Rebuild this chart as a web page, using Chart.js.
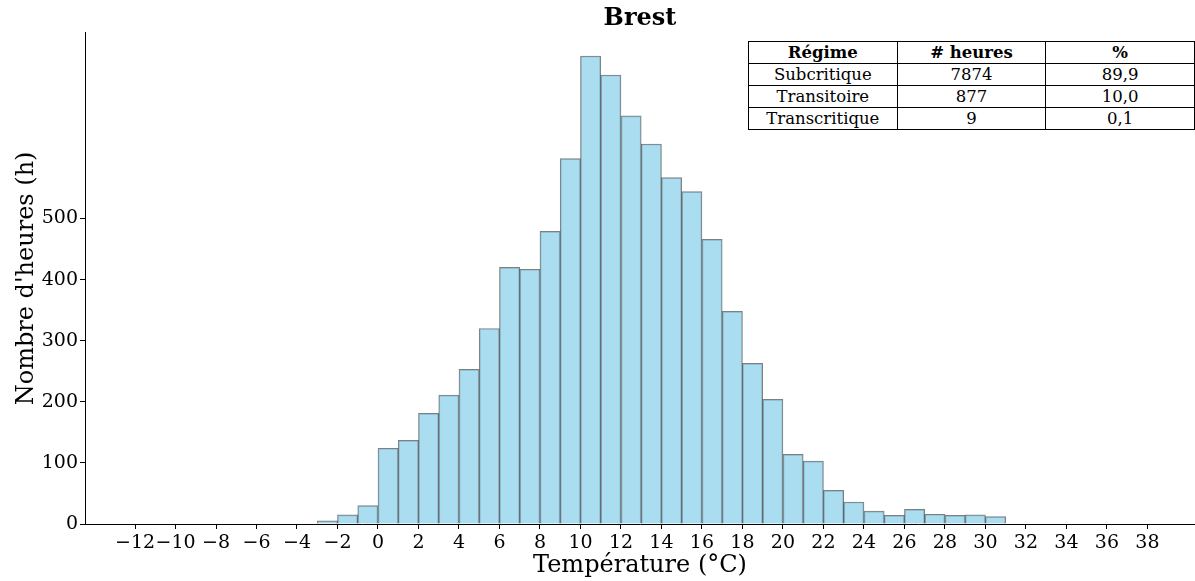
<!DOCTYPE html>
<html>
<head>
<meta charset="utf-8">
<script src="https://cdn.jsdelivr.net/npm/chart.js@4"></script>
<style>
  body { margin: 0; background: #fff; }
  #wrap { position: relative; width: 1195px; height: 581px; }
  #regimes {
    position: absolute; left: 748px; top: 41px; width: 447px;
    border-collapse: collapse; font-family: "DejaVu Serif", serif; font-size: 16.5px;
    background: #fff;
  }
  #regimes td, #regimes th {
    border: 1px solid #000; text-align: center; height: 21px; padding: 0; width: 33.3%;
    line-height: 21px;
  }
</style>
</head>
<body>
<div id="wrap">
  <canvas id="histo" width="1195" height="581"></canvas>
  <table id="regimes"></table>
</div>
<script>
// bins of 1 °C, left edges
const binStarts = [-3, -2, -1, 0, 1, 2, 3, 4, 5, 6, 7, 8, 9, 10, 11, 12, 13, 14, 15, 16, 17, 18, 19, 20, 21, 22, 23, 24, 25, 26, 27, 28, 29, 30];
const hours = [5, 15, 30, 124, 137, 181, 211, 253, 320, 420, 417, 479, 598, 766, 735, 668, 622, 567, 544, 466, 348, 263, 204, 114, 103, 55, 36, 21, 14, 24, 16, 14, 15, 12];
const xTicks = [-12, -10, -8, -6, -4, -2, 0, 2, 4, 6, 8, 10, 12, 14, 16, 18, 20, 22, 24, 26, 28, 30, 32, 34, 36, 38];
const yTicks = [0, 100, 200, 300, 400, 500];

const tableHead = ["Régime", "# heures", "%"];
const regimes = ["Subcritique", "Transitoire", "Transcritique"];
const regimeHours = ["7874", "877", "9"];
const regimePct = ["89,9", "10,0", "0,1"];

// table
const tbl = document.getElementById("regimes");
let html = "<tr>" + tableHead.map(h => "<th>" + h + "</th>").join("") + "</tr>";
regimes.forEach((r, i) => {
  html += "<tr><td>" + r + "</td><td>" + regimeHours[i] + "</td><td>" + regimePct[i] + "</td></tr>";
});
tbl.innerHTML = html;

const serif = "'DejaVu Serif', serif";
const fmt = v => (v < 0 ? "\u2212" + Math.abs(v) : String(v));

new Chart(document.getElementById("histo"), {
  type: "bar",
  data: {
    datasets: [{
      data: binStarts.map((b, i) => ({ x: b + 0.5, y: hours[i] })),
      backgroundColor: "rgba(135, 206, 235, 0.7)",
      borderColor: "rgba(0, 0, 0, 0.5)",
      borderWidth: 1,
      barPercentage: 1,
      categoryPercentage: 1,
    }],
  },
  options: {
    responsive: false,
    animation: false,
    layout: { padding: 0 },
    plugins: {
      legend: { display: false },
      tooltip: { enabled: false },
      title: {
        display: true,
        fullSize: false,
        text: "Brest",
        color: "#000",
        font: { family: serif, size: 24, weight: "bold" },
        padding: { top: 4, bottom: 0 },
      },
    },
    scales: {
      x: {
        type: "linear",
        offset: false,
        min: -14.47,
        max: 40.35,
        afterBuildTicks: s => { s.ticks = xTicks.map(v => ({ value: v })); },
        afterFit: s => { s.height = 57; },
        ticks: {
          color: "#000",
          font: { family: serif, size: 19 },
          padding: 3,
          maxRotation: 0,
          autoSkip: false,
          callback: v => fmt(v),
        },
        grid: { offset: false, drawOnChartArea: false, drawTicks: true, tickLength: 5, color: "#000" },
        border: { display: true, color: "#000", width: 1 },
        title: {
          display: true,
          text: "Température (°C)",
          color: "#000",
          font: { family: serif, size: 24 },
          padding: { top: 0, bottom: 1 },
        },
      },
      y: {
        min: 0,
        max: 804,
        afterBuildTicks: s => { s.ticks = yTicks.map(v => ({ value: v })); },
        afterFit: s => { s.width = 85; },
        ticks: {
          color: "#000",
          font: { family: serif, size: 19 },
          padding: 2,
        },
        grid: { drawOnChartArea: false, drawTicks: true, tickLength: 5, color: "#000" },
        border: { display: true, color: "#000", width: 1 },
        title: {
          display: true,
          text: "Nombre d'heures (h)",
          color: "#000",
          font: { family: serif, size: 24 },
          padding: { top: 12, bottom: 0 },
        },
      },
    },
  },
});
</script>
</body>
</html>
